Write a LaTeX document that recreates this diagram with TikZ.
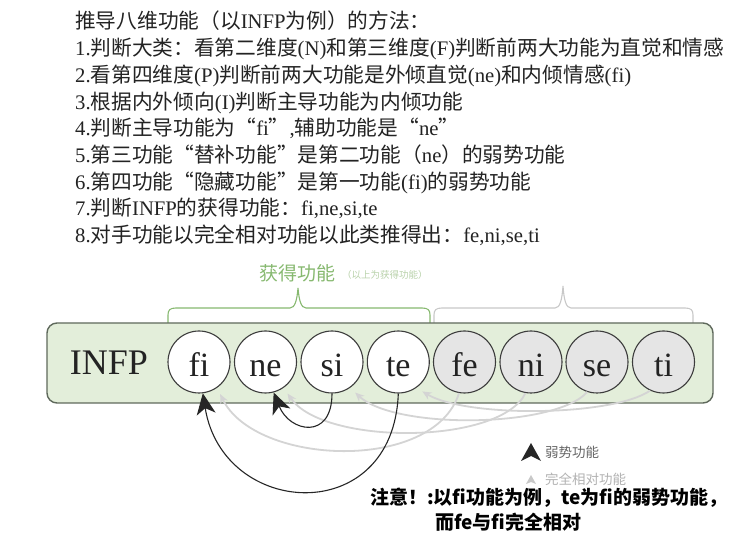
\documentclass[tikz,border=0pt]{standalone}
\usepackage{fontspec}
\setmainfont{Liberation Serif}
\newfontfamily\cjk{Noto Sans CJK SC}
\newcommand\zh[1]{{\cjk #1}}
\usetikzlibrary{arrows.meta}
\definecolor{boxgreen}{RGB}{227,238,218}
\definecolor{boxline}{RGB}{95,105,92}
\definecolor{ringline}{RGB}{60,60,60}
\definecolor{graycirc}{RGB}{229,229,229}
\definecolor{labgreen}{RGB}{135,185,112}
\definecolor{tinygreen}{RGB}{185,210,170}
\definecolor{bracegray}{RGB}{200,200,200}
\definecolor{arrowgray}{RGB}{212,212,212}
\definecolor{textdark}{RGB}{35,35,35}
\begin{document}
\begin{tikzpicture}[x=1pt,y=-1pt,
  txt/.style={anchor=base west, inner sep=0pt, text=textdark, font=\fontsize{20.7}{24}\selectfont},
  fnode/.style={circle, draw=ringline, line width=1.1pt, minimum size=62pt, inner sep=0pt, text height=30pt, text depth=0pt, font=\fontsize{34}{34}\selectfont, text=textdark},
  gain/.style={fnode, fill=white},
  oppo/.style={fnode, fill=graycirc},
  weak/.style={draw=black!85, line width=1.1pt, -{Stealth[length=21pt,width=19pt,inset=6pt]}},
  opp/.style={draw=arrowgray, line width=1.8pt, -{Stealth[length=9pt,width=8pt]}, shorten >=7pt},
  leg/.style={anchor=west, inner sep=0pt, font=\cjk\fontsize{13.5}{14}\selectfont},
  note/.style={anchor=west, inner sep=0pt, font=\cjk\bfseries\fontsize{19}{20}\selectfont, text=black}
]
\useasboundingbox (0,0) rectangle (750,534);
\fill[white] (0,0) rectangle (750,534);

% heading text
\node[txt] (l1) at (75,29) {\zh{推导八维功能（以}INFP\zh{为例）的方法：}};
\node[txt] (l2) at (75,55.7) {1.\zh{判断大类：看第二维度}(N)\zh{和第三维度}(F)\zh{判断前两大功能为直觉和情感}};
\node[txt] (l3) at (75,82.4) {2.\zh{看第四维度}(P)\zh{判断前两大功能是外倾直觉}(ne)\zh{和内倾情感}(fi)};
\node[txt] (l4) at (75,109.1) {3.\zh{根据内外倾向}(I)\zh{判断主导功能为内倾功能}};
\node[txt] (l5) at (75,135.8) {4.\zh{判断主导功能为“}fi\zh{”},\zh{辅助功能是“}ne\zh{”}};
\node[txt] (l6) at (75,162.5) {5.\zh{第三功能“替补功能”是第二功能（}ne\zh{）的弱势功能}};
\node[txt] (l7) at (75,189.2) {6.\zh{第四功能“隐藏功能”是第一功能}(fi)\zh{的弱势功能}};
\node[txt] (l8) at (75,215.9) {7.\zh{判断}INFP\zh{的获得功能：}fi,ne,si,te};
\node[txt] (l9) at (75,242.6) {8.\zh{对手功能以完全相对功能以此类推得出：}fe,ni,se,ti};

% braces
\draw[labgreen, line width=1.1pt] (168,331) -- (168,315) .. controls (168,310) and (170,308) .. (176,308) -- (290,308) .. controls (295,308) and (297,300) .. (298,288) .. controls (299,300) and (301,308) .. (306,308) -- (422,308) .. controls (428,308) and (430,310) .. (430,315) -- (430,331);
\draw[bracegray, line width=1.1pt] (434,331) -- (434,315) .. controls (434,310) and (436,308) .. (442,308) -- (555,308) .. controls (560,308) and (562,300) .. (563,286) .. controls (564,300) and (566,308) .. (571,308) -- (685,308) .. controls (691,308) and (693,310) .. (693,315) -- (693,327);
\node[anchor=center, inner sep=0pt, text=labgreen, font=\cjk\fontsize{19}{20}\selectfont] (gainlab) at (297,273) {获得功能};
\node[anchor=west, inner sep=0pt, text=tinygreen, font=\cjk\fontsize{9.5}{10}\selectfont] (gainsub) at (342,275) {（以上为获得功能）};

% main bar
\draw[boxline, fill=boxgreen, line width=1.4pt, rounded corners=10pt] (47,323) rectangle (713,403);
\node[anchor=base, inner sep=0pt, text=textdark, font=\fontsize{36}{36}\selectfont] (infp) at (109,375) {INFP};

\node[gain] (fi) at (199,362) {fi};
\node[gain] (ne) at (265.5,362) {ne};
\node[gain] (si) at (332,362) {si};
\node[gain] (te) at (398.3,362) {te};
\node[oppo] (fe) at (464.5,362) {fe};
\node[oppo] (ni) at (531,362) {ni};
\node[oppo] (se) at (597,362) {se};
\node[oppo] (ti) at (663.5,362) {ti};

% opposite-function arrows
\draw[opp] (fe.-100) .. controls +(-25,80) and +(38,78) .. (fi.-55);
\draw[opp] (ni.-100) .. controls +(-25,52) and +(40,58) .. (ne.-55);
\draw[opp] (se.-108) .. controls +(-32,36) and +(45,42) .. (si.-55);
\draw[opp] (ti.-115) .. controls +(-38,26) and +(50,30) .. (te.-55);

% weak-function arrows
\draw[weak] (te.south) .. controls +(-5,135) and +(20,125) .. (fi.-83);
\draw[weak] (si.south) .. controls +(0,47) and +(16,40) .. (ne.-75);

% legend
\fill[black!85] (531,443) -- (541,461) -- (531,456) -- (521,461) -- cycle;
\node[leg, text=black!60] (legweak) at (545,452) {弱势功能};
\fill[bracegray] (531,475) -- (536,484) -- (531,482) -- (526,484) -- cycle;
\node[leg, text=black!30] (legopp) at (545,479) {完全相对功能};

% note
\node[note] (note1) at (370,498) {注意！:以fi功能为例，te为fi的弱势功能，};
\node[note] (note2) at (435,522) {而fe与fi完全相对};
\end{tikzpicture}
\end{document}
